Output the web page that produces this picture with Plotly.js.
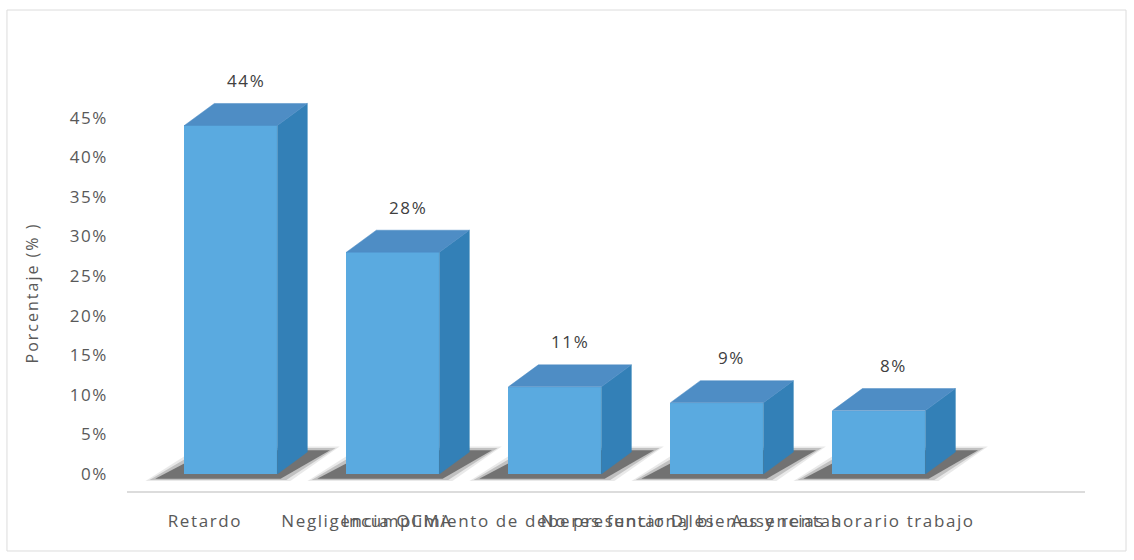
<!DOCTYPE html>
<html>
<head>
<meta charset="utf-8">
<script src="https://cdn.plot.ly/plotly-3.0.1.min.js"></script>
<style>
  html, body { margin: 0; padding: 0; background: #ffffff; }
  #chart { width: 1134px; height: 560px; }
  .xtick text, .ytick text, .annotation-text { letter-spacing: 1.6px; }
  .g-ytitle text { letter-spacing: 2px; }
</style>
</head>
<body>
<div id="chart"></div>
<script>
// ---- data ----
const categories = [
  "Retardo",
  "Negligencia OCMA",
  "Incumplimiento de deberes funcionales",
  "No presentar DJ bienes y rentas",
  "Ausencias horario trabajo"
];
const values = [0.44, 0.28, 0.11, 0.09, 0.08];
const valueLabels = ["44%", "28%", "11%", "9%", "8%"];
const yTickVals = [0, 0.05, 0.10, 0.15, 0.20, 0.25, 0.30, 0.35, 0.40, 0.45];
const yTickText = ["0%", "5%", "10%", "15%", "20%", "25%", "30%", "35%", "40%", "45%"];
const yAxisTitle = "Porcentaje (% )";

// ---- styling / pseudo-3D geometry ----
const BAR_OFFSET = -0.127, BAR_WIDTH = 0.574;
const DX = 0.185, DY = 0.0278;
const FRONT = "#5AAAE0", SIDE = "#3380B7", TOP = "#4E8DC5";
const idx = categories.map((c, i) => i);

const sideX = [], sideY = [], topX = [], topY = [];
const shapes = [];
idx.forEach(i => {
  const v = values[i];
  const xL = i + BAR_OFFSET, xR = xL + BAR_WIDTH;
  sideX.push(xR, xR + DX, xR + DX, xR, xR, null);
  sideY.push(0, DY, v + DY, v, 0, null);
  topX.push(xL, xL + DX, xR + DX, xR, xL, null);
  topY.push(v, v + DY, v + DY, v, v, null);
  // soft floor shadow (layered to mimic blur)
  const layers = [
    {g: 0.06, a: 0.10},
    {g: 0.035, a: 0.20},
    {g: 0.0, a: 0.50}
  ];
  layers.forEach(L => {
    const p = `M ${xL - 0.18 - L.g},${-0.006 - L.g * 0.05} L ${xR + 0.02 + L.g},${-0.006 - L.g * 0.05} ` +
              `L ${xR + DX + 0.14 + L.g},${0.030 + L.g * 0.08} L ${xL + DX - 0.03 - L.g},${0.030 + L.g * 0.08} Z`;
    shapes.push({type: "path", path: p, xref: "x", yref: "y", layer: "below",
                 fillcolor: `rgba(35,35,35,${L.a})`, line: {width: 0}});
  });
});
// outer chart frame
shapes.push({type: "rect", xref: "paper", yref: "paper",
  x0: -0.1253, x1: 1.0428, y0: -0.1515, y1: 1.2146, layer: "below",
  line: {color: "#DCDCDC", width: 1}, fillcolor: "rgba(0,0,0,0)"});

const traces = [
  {type: "bar", x: idx, y: values, width: BAR_WIDTH, offset: BAR_OFFSET,
   marker: {color: FRONT, line: {width: 0}}, hoverinfo: "skip", showlegend: false},
  {type: "scatter", x: sideX, y: sideY, mode: "lines", fill: "toself",
   fillcolor: SIDE, line: {color: SIDE, width: 0.5}, hoverinfo: "skip", showlegend: false},
  {type: "scatter", x: topX, y: topY, mode: "lines", fill: "toself",
   fillcolor: TOP, line: {color: TOP, width: 0.5}, hoverinfo: "skip", showlegend: false}
];

const annotations = idx.map(i => ({
  x: i + BAR_OFFSET + (BAR_WIDTH + DX) / 2, y: values[i] + DY,
  xref: "x", yref: "y", text: valueLabels[i], showarrow: false,
  yshift: 23, yanchor: "middle",
  font: {family: "Open Sans, sans-serif", size: 17, color: "#404040"}
}));

const layout = {
  width: 1134, height: 560,
  margin: {l: 127, r: 49, t: 95, b: 69},
  paper_bgcolor: "#ffffff", plot_bgcolor: "#ffffff",
  showlegend: false,
  font: {family: "Open Sans, sans-serif", size: 17, color: "#595959"},
  xaxis: {
    type: "linear", range: [-0.481, 5.432],
    tickvals: idx, ticktext: categories, tickangle: 0,
    showgrid: false, zeroline: false, ticks: "",
    showline: true, linecolor: "#DCDCDC", linewidth: 2,
    ticklabelstandoff: 14,
    tickfont: {family: "Open Sans, sans-serif", size: 17, color: "#595959"},
    fixedrange: true
  },
  yaxis: {
    range: [-0.0215, 0.4785],
    tickvals: yTickVals, ticktext: yTickText,
    showgrid: false, zeroline: false, showline: false, ticks: "",
    ticklabelstandoff: 18,
    tickfont: {family: "Open Sans, sans-serif", size: 17, color: "#595959"},
    title: {text: yAxisTitle, standoff: 27,
            font: {family: "Open Sans, sans-serif", size: 16, color: "#595959"}},
    fixedrange: true
  },
  shapes: shapes,
  annotations: annotations,
  bargap: 0
};

Plotly.newPlot("chart", traces, layout, {displayModeBar: false, staticPlot: true});
</script>
</body>
</html>
